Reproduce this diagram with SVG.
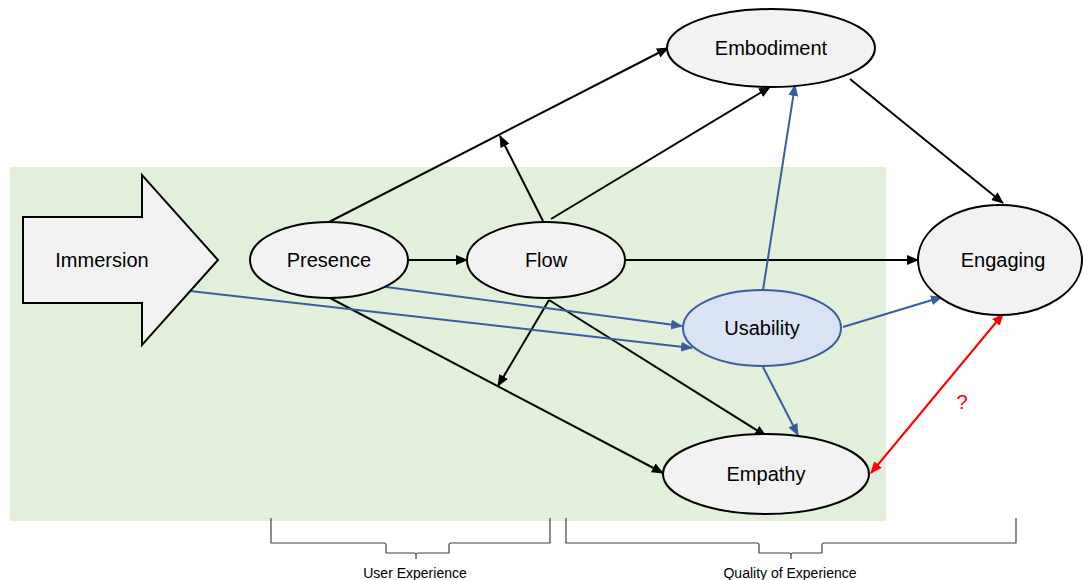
<svg xmlns="http://www.w3.org/2000/svg" width="1083" height="580" viewBox="0 0 1083 580">
<defs>
<style>
.node{fill:#f2f2f2;stroke:#000;stroke-width:2}
.usab{fill:#dae3f3;stroke:#3a5da0;stroke-width:2}
.lbl{font-family:"Liberation Sans",Arial,sans-serif;font-size:20px;fill:#000;text-anchor:middle;dominant-baseline:central}
.blk{stroke:#000;stroke-width:2;fill:none;marker-end:url(#ab)}
.blu{stroke:#3a5da0;stroke-width:2;fill:none;marker-end:url(#au)}
.red{stroke:#ff0000;stroke-width:2;fill:none;marker-start:url(#ar);marker-end:url(#ar)}
.br{stroke:#404040;stroke-width:1.2;fill:none}
.bl{font-family:"Liberation Sans",Arial,sans-serif;font-size:14px;fill:#000;text-anchor:middle}
</style>
<marker id="ab" markerUnits="userSpaceOnUse" markerWidth="12" markerHeight="10" refX="11" refY="5" orient="auto"><path d="M0,0 L12,5 L0,10 z" fill="#000"/></marker>
<marker id="au" markerUnits="userSpaceOnUse" markerWidth="12" markerHeight="10" refX="11" refY="5" orient="auto"><path d="M0,0 L12,5 L0,10 z" fill="#3a5da0"/></marker>
<marker id="ar" markerUnits="userSpaceOnUse" markerWidth="12" markerHeight="10" refX="11" refY="5" orient="auto-start-reverse"><path d="M0,0 L12,5 L0,10 z" fill="#ff0000"/></marker>
</defs>
<rect x="10" y="167" width="876" height="354" fill="#e2efda"/>
<g id="connectors">
<line class="blk" x1="329" y1="222" x2="668" y2="48"/>
<line class="blk" x1="543" y1="221" x2="500" y2="136"/>
<line class="blk" x1="551" y1="219" x2="770" y2="87"/>
<line class="blk" x1="850" y1="79" x2="1003" y2="203"/>
<line class="blk" x1="408" y1="260" x2="467" y2="260"/>
<line class="blk" x1="625" y1="260" x2="918" y2="260"/>
<line class="blk" x1="330" y1="298" x2="663" y2="473"/>
<line class="blk" x1="549" y1="300" x2="498" y2="386"/>
<line class="blk" x1="549" y1="300" x2="766" y2="436"/>
<line class="blu" x1="763" y1="290" x2="795" y2="85"/>
<line class="blu" x1="386" y1="287" x2="682" y2="326"/>
<line class="blu" x1="190" y1="291" x2="692" y2="348"/>
<line class="blu" x1="763" y1="367" x2="798" y2="435"/>
<line class="blu" x1="843" y1="327" x2="942" y2="297"/>
<line class="red" x1="1003" y1="314" x2="871" y2="473"/>
</g>
<g id="immersion">
<polygon class="node" points="23,217 142,217 142,175 218,260 142,345 142,303 23,303"/>
<text class="lbl" x="102" y="260">Immersion</text>
</g>
<g id="presence">
<ellipse class="node" cx="329" cy="260" rx="79" ry="38"/>
<text class="lbl" x="329" y="260">Presence</text>
</g>
<g id="flow">
<ellipse class="node" cx="546" cy="260" rx="79" ry="38"/>
<text class="lbl" x="546" y="260">Flow</text>
</g>
<g id="embodiment">
<ellipse class="node" cx="771" cy="48" rx="104" ry="39"/>
<text class="lbl" x="771" y="48">Embodiment</text>
</g>
<g id="engaging">
<ellipse class="node" cx="1000" cy="260" rx="82" ry="55"/>
<text class="lbl" x="1003" y="260">Engaging</text>
</g>
<g id="usability">
<ellipse class="usab" cx="762" cy="328" rx="79" ry="38"/>
<text class="lbl" x="762" y="328">Usability</text>
</g>
<g id="empathy">
<ellipse class="node" cx="766" cy="474" rx="103" ry="40"/>
<text class="lbl" x="766" y="474">Empathy</text>
</g>
<text x="962" y="402" font-family="'Liberation Sans',Arial,sans-serif" font-size="20" fill="#ff0000" text-anchor="middle" dominant-baseline="central">?</text>
<g id="brackets">
<path class="br" d="M271,518 V543 H384 Q386,543 386,545 V553 H414 Q416,553 416,555 V559 M416,555 Q416,553 418,553 H449 V545 Q449,543 451,543 H550 V518"/>
<path class="br" d="M566,518 V543 H757 Q759,543 759,545 V553 H789 Q791,553 791,555 V559 M791,555 Q791,553 793,553 H822 V545 Q822,543 824,543 H1016 V518"/>
<text class="bl" x="415" y="578">User Experience</text>
<text class="bl" x="790" y="578">Quality of Experience</text>
</g>
</svg>
